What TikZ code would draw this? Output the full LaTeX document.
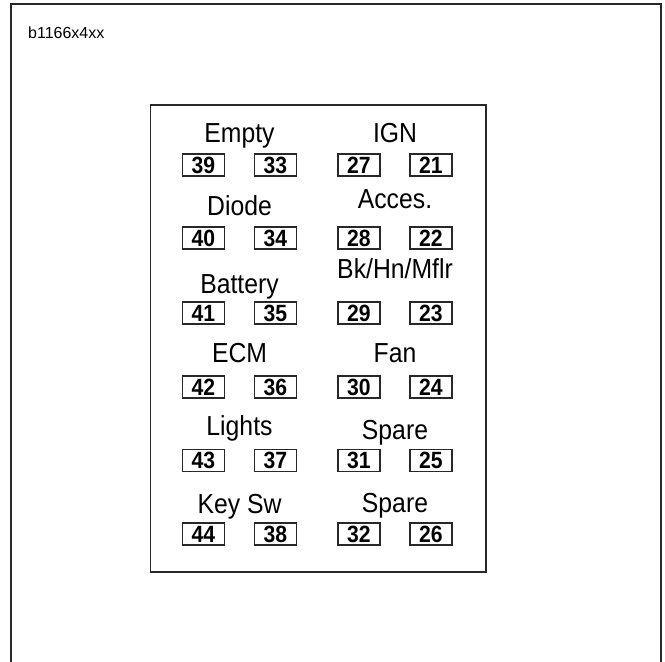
\documentclass[tikz,border=0pt]{standalone}
\usepackage{fontspec}
\setmainfont{Liberation Sans}
\newfontfamily\narrowfont{Liberation Sans}[FakeStretch=0.9]
\usetikzlibrary{positioning}
\definecolor{cFrame}{RGB}{40,40,40}

\begin{document}
\begin{tikzpicture}[
    x=1pt, y=-1pt,
    fuseLabel/.style={anchor=base, inner sep=0pt, font=\narrowfont\fontsize{27.5}{30}\selectfont},
    fuseBox/.style={draw=cFrame, line width=1.6pt, minimum width=42pt, minimum height=22pt,
        inner sep=0pt, font=\narrowfont\bfseries\fontsize{23.5}{25}\selectfont}
]

    % --- Makro: eine Sicherungsreihe (Beschriftung + 2 Kaesten) ---
    \newcommand{\fuseRow}[7]{
        % #1 Name, #2 x-Mitte, #3 Kasten oben, #4 Grundlinie Text, #5 Text, #6/#7 Nummern
        \node[fuseLabel] (#1) at (#2, #4) {#5};
        \begin{scope}[shift={(#2, #3)}]
            \node[fuseBox] (#1_a) at (-36, 11) {#6};
            \node[fuseBox] (#1_b) at (36, 11) {#7};
        \end{scope}
    }

    \useasboundingbox (0, 0) rectangle (665, 662);

    % Aeusserer Rahmen (unten offen)
    \draw[cFrame, line width=1.6pt] (11, 662) -- (11, 4) -- (661, 4) -- (661, 662);
    \node[anchor=base west, inner sep=0pt, font=\fontsize{16}{18}\selectfont] (title) at (28, 38.5) {b1166x4xx};

    % Sicherungskasten
    \draw[cFrame, line width=1.6pt] (150.5, 105) rectangle (486, 572);

    % Linke Spalte
    \fuseRow{empty}{239.5}{154}{142.3}{Empty}{39}{33}
    \fuseRow{diode}{239.5}{227}{215.7}{Diode}{40}{34}
    \fuseRow{battery}{239.5}{302}{293}{Battery}{41}{35}
    \fuseRow{ecm}{239.5}{376}{362.7}{ECM}{42}{36}
    \fuseRow{lights}{239.5}{449.5}{435}{Lights}{43}{37}
    \fuseRow{keysw}{239.5}{523}{513.3}{Key Sw}{44}{38}

    % Rechte Spalte
    \fuseRow{ign}{395}{154}{142.3}{IGN}{27}{21}
    \fuseRow{acces}{395}{227}{208.3}{Acces.}{28}{22}
    \fuseRow{bkhn}{395}{302}{278.3}{Bk/Hn/Mflr}{29}{23}
    \fuseRow{fan}{395}{376}{362}{Fan}{30}{24}
    \fuseRow{spareA}{395}{449.5}{439}{Spare}{31}{25}
    \fuseRow{spareB}{395}{523}{512.7}{Spare}{32}{26}

\end{tikzpicture}
\end{document}
